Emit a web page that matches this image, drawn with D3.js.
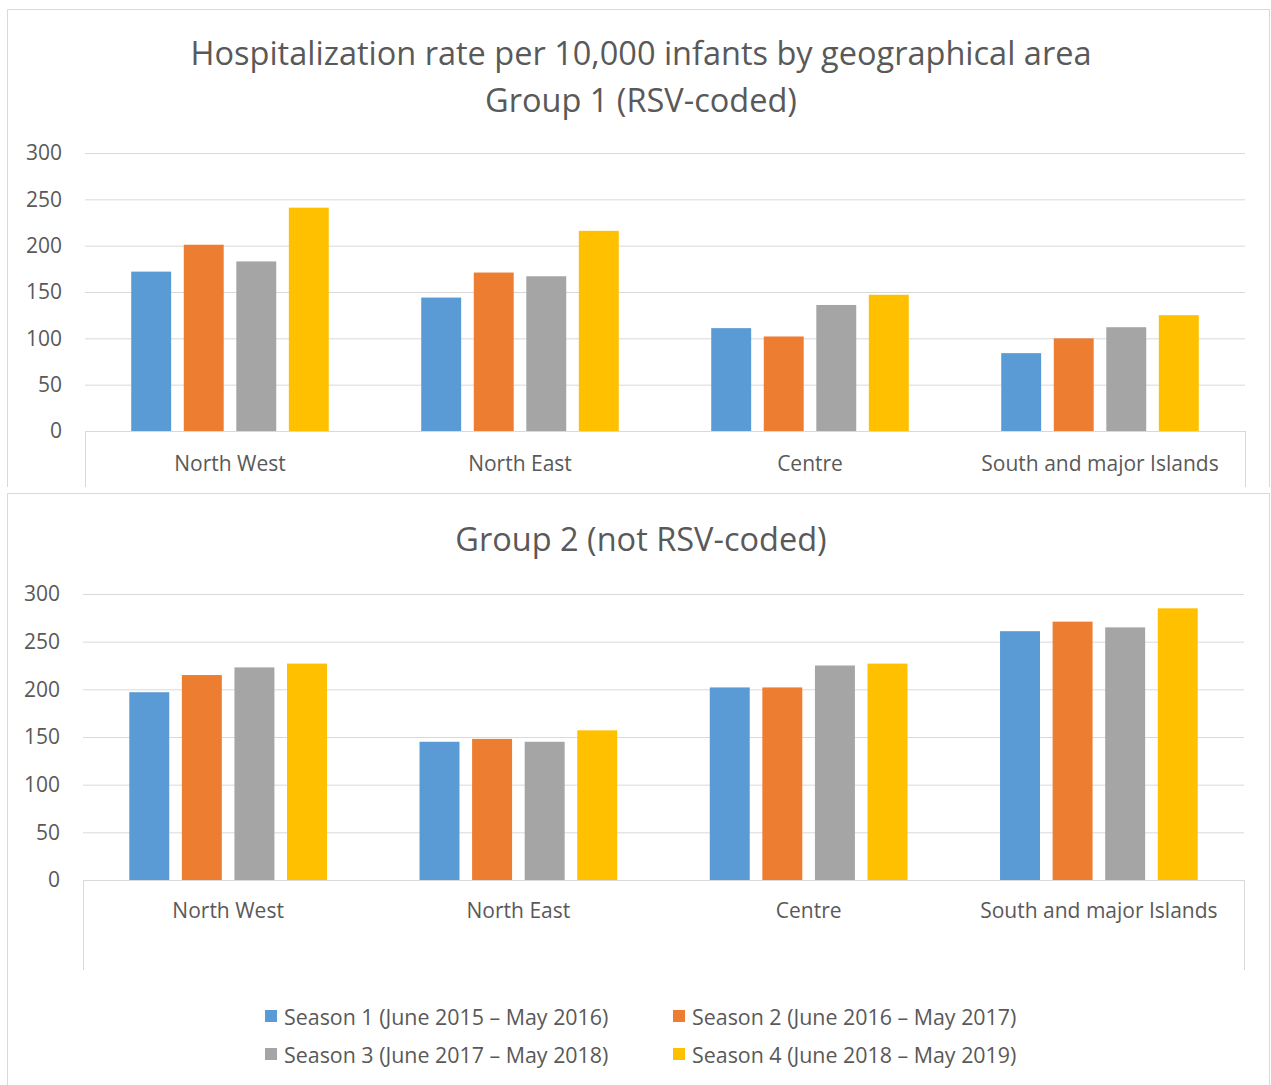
<!DOCTYPE html>
<html>
  <head>
    <meta charset="utf-8">
    <style>
    body { margin: 0; background: #fff; }
    svg text { font-family: "Open Sans", "Noto Sans", sans-serif; fill: #595959; }
    </style>
  </head>
  <body>
    <div id="chart-area"></div>

    <script src="https://d3js.org/d3.v7.min.js"></script>
    <script>
      // data
      const regions = ["North West", "North East", "Centre", "South and major Islands"];
      const seasons = [
        "Season 1 (June 2015 \u2013 May 2016)",
        "Season 2 (June 2016 \u2013 May 2017)",
        "Season 3 (June 2017 \u2013 May 2018)",
        "Season 4 (June 2018 \u2013 May 2019)"
      ];
      const colors = ["#5b9bd5", "#ed7d31", "#a5a5a5", "#ffc000"];
      const yTicks = [0, 50, 100, 150, 200, 250, 300];

      // Group 1 (RSV-coded), one array per season, in region order
      const group1Season1 = [172, 144, 111, 84];
      const group1Season2 = [201, 171, 102, 100];
      const group1Season3 = [183, 167, 136, 112];
      const group1Season4 = [241, 216, 147, 125];

      // Group 2 (not RSV-coded)
      const group2Season1 = [197, 145, 202, 261];
      const group2Season2 = [215, 148, 202, 271];
      const group2Season3 = [223, 145, 225, 265];
      const group2Season4 = [227, 157, 227, 285];

      const width = 1271;
      const height = 1085;
      const borderColor = "#d9d9d9";

      const svg = d3.select("#chart-area")
        .append("svg")
          .attr("width", width)
          .attr("height", height);

      // panel frames
      svg.append("path")
        .attr("d", "M7.5,487V9.5H1269.5V487")
        .attr("fill", "none")
        .attr("stroke", borderColor);

      svg.append("rect")
        .attr("x", 7.5)
        .attr("y", 493.5)
        .attr("width", 1262)
        .attr("height", 600)
        .attr("fill", "none")
        .attr("stroke", borderColor);

      function drawPanel(series, box) {
        const g = svg.append("g");

        const x0 = d3.scaleBand()
          .domain(regions)
          .range([box.left, box.right]);

        const x1 = d3.scaleBand()
          .domain(d3.range(seasons.length))
          .range([0, x0.bandwidth()])
          .paddingInner(0.24)
          .paddingOuter(0.88);

        const y = d3.scaleLinear()
          .domain([0, 300])
          .range([box.zero, box.top]);

        // gridlines + y labels
        const yAxis = g.append("g")
          .attr("transform", `translate(${box.left},0)`)
          .call(d3.axisLeft(y)
            .tickValues(yTicks)
            .tickSize(-(box.right - box.left))
            .tickPadding(23));
        yAxis.select(".domain").remove();
        yAxis.selectAll("line").attr("stroke", borderColor);
        yAxis.selectAll("text")
          .attr("fill", "#595959")
          .style("font-size", "21px");

        // bars
        regions.forEach((r, i) => {
          g.selectAll(null)
            .data(series.map(s => s[i]))
            .enter().append("rect")
              .attr("x", (d, j) => x0(r) + x1(j))
              .attr("y", d => y(d))
              .attr("width", x1.bandwidth())
              .attr("height", d => y(0) - y(d))
              .attr("fill", (d, j) => colors[j]);
        });

        // category axis
        const xAxis = g.append("g")
          .attr("transform", `translate(0,${box.zero})`)
          .call(d3.axisBottom(x0).tickSize(0).tickPadding(box.labelPad));
        xAxis.select(".domain").attr("stroke", borderColor);
        xAxis.selectAll("text")
          .attr("fill", "#595959")
          .style("font-size", "21px");

        // end lines of the category axis
        g.selectAll(null)
          .data(x0.range())
          .enter().append("line")
            .attr("x1", d => d + 0.5)
            .attr("x2", d => d + 0.5)
            .attr("y1", box.zero)
            .attr("y2", box.axisBottom)
            .attr("stroke", borderColor);

        // title lines
        g.selectAll(null)
          .data(box.title)
          .enter().append("text")
            .attr("x", width / 2 + 5.5)
            .attr("y", (d, i) => box.titleY + i * 47)
            .attr("text-anchor", "middle")
            .attr("dominant-baseline", "central")
            .style("font-size", "32.5px")
            .text(d => d);
      }

      drawPanel(
        [group1Season1, group1Season2, group1Season3, group1Season4],
        {
          left: 85, right: 1245, top: 153, zero: 431, axisBottom: 487,
          titleY: 52, labelPad: 25,
          title: ["Hospitalization rate per 10,000 infants by geographical area", "Group 1 (RSV-coded)"]
        }
      );

      drawPanel(
        [group2Season1, group2Season2, group2Season3, group2Season4],
        {
          left: 83, right: 1244, top: 594, zero: 880, axisBottom: 970,
          titleY: 538, labelPad: 23,
          title: ["Group 2 (not RSV-coded)"]
        }
      );

      // legend, two columns by two rows
      const legend = svg.append("g");
      const legendCols = [265, 673];
      const legendRows = [1016, 1054];

      const item = legend.selectAll("g")
        .data(seasons)
        .enter().append("g")
          .attr("transform", (d, i) => `translate(${legendCols[i % 2]},${legendRows[Math.floor(i / 2)]})`);

      item.append("rect")
        .attr("x", 0)
        .attr("y", -6)
        .attr("width", 12)
        .attr("height", 12)
        .attr("fill", (d, i) => colors[i]);

      item.append("text")
        .attr("x", 19)
        .attr("dominant-baseline", "central")
        .style("font-size", "21.4px")
        .text(d => d);
    </script>
  </body>
</html>
